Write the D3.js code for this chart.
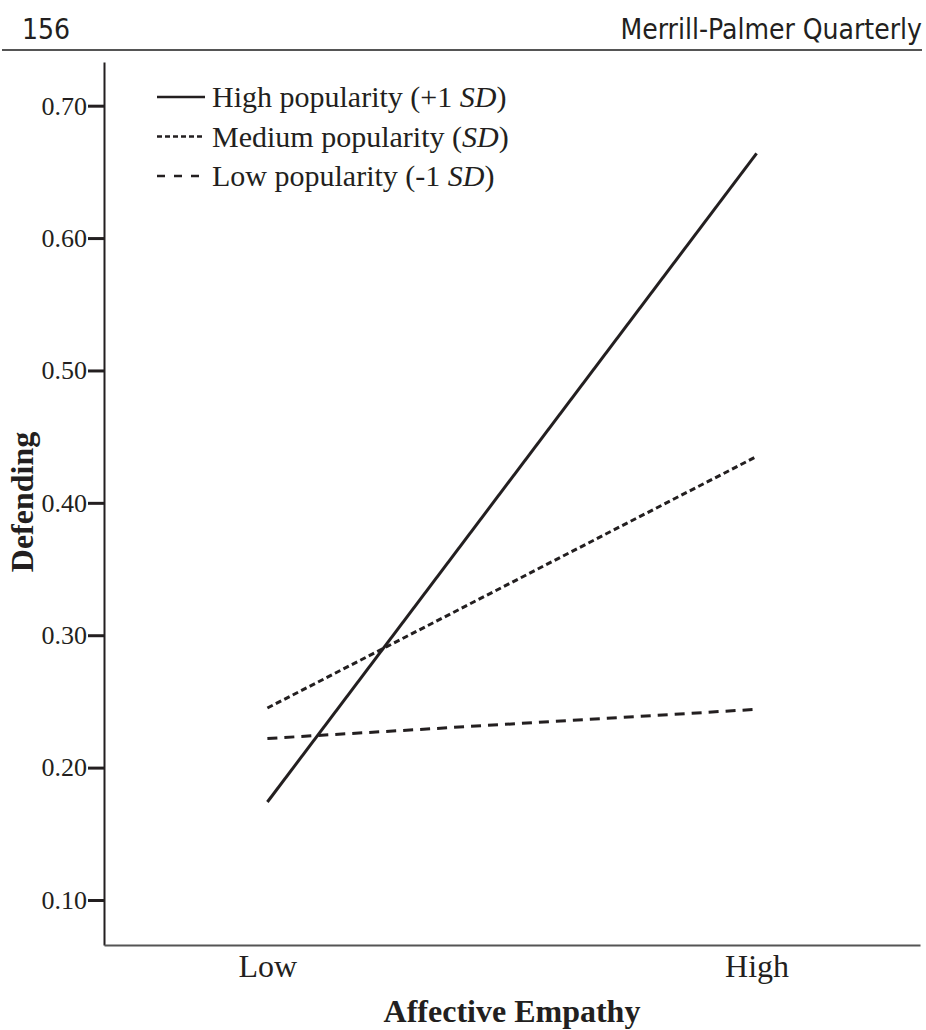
<!DOCTYPE html>
<html>
<head>
<meta charset="utf-8">
<script src="https://cdn.jsdelivr.net/npm/d3@7"></script>
<style>
  body { margin: 0; background: #fff; }
</style>
</head>
<body>
<div id="chart"></div>
<script>
// Data
const empathyLevels = ['Low', 'High'];
const seriesNames = ['High popularity', 'Medium popularity', 'Low popularity'];
const highPopularity = [0.174, 0.664];
const mediumPopularity = [0.245, 0.435];
const lowPopularity = [0.222, 0.244];
const yTicks = [0.10, 0.20, 0.30, 0.40, 0.50, 0.60, 0.70];

const width = 926, height = 1030;
const serif = "'Liberation Serif', 'Times New Roman', serif";
const headerFont = "'Liberation Sans Narrow', 'DejaVu Sans Condensed', 'Liberation Sans', sans-serif";
const ink = '#231f20';

const svg = d3.select('#chart')
    .append('svg')
    .attr('width', width)
    .attr('height', height);

// Page header
svg.append('text')
    .attr('x', 22)
    .attr('y', 39)
    .style('font-family', headerFont)
    .style('font-size', '28px')
    .attr('fill', ink)
    .text('156');

svg.append('text')
    .attr('x', 922)
    .attr('y', 39)
    .attr('text-anchor', 'end')
    .style('font-family', headerFont)
    .style('font-size', '28px')
    .attr('fill', ink)
    .text('Merrill-Palmer Quarterly');

svg.append('line')
    .attr('x1', 2).attr('x2', 922)
    .attr('y1', 50).attr('y2', 50)
    .attr('stroke', '#555')
    .attr('stroke-width', 2);

// Scales
const x = d3.scalePoint()
    .domain(empathyLevels)
    .range([104, 920])
    .padding(0.334);

const y = d3.scaleLinear()
    .domain([0.066, 0.733])
    .range([945, 62]);

// Axes
const yAxis = svg.append('g')
    .attr('transform', 'translate(104,0)')
    .call(d3.axisLeft(y).tickValues(yTicks).tickFormat(d3.format('.2f')).tickSize(16).tickSizeOuter(0).tickPadding(1));

yAxis.select('.domain').attr('stroke', ink).attr('stroke-width', 2);
yAxis.selectAll('.tick line').attr('stroke', ink).attr('stroke-width', 3);
yAxis.selectAll('.tick text')
    .style('font-family', serif)
    .style('font-size', '26px')
    .attr('fill', ink);

const xAxis = svg.append('g')
    .attr('transform', 'translate(0,945)')
    .call(d3.axisBottom(x).tickSize(0).tickSizeOuter(0).tickPadding(9));

xAxis.select('.domain').attr('stroke', '#555').attr('stroke-width', 2);
xAxis.selectAll('.tick text')
    .style('font-family', serif)
    .style('font-size', '32px')
    .attr('fill', ink);

// Axis titles
svg.append('text')
    .attr('x', 512)
    .attr('y', 1022)
    .attr('text-anchor', 'middle')
    .style('font-family', serif)
    .style('font-size', '32px')
    .style('font-weight', 'bold')
    .attr('fill', ink)
    .text('Affective Empathy');

svg.append('text')
    .attr('transform', 'translate(33,502) rotate(-90)')
    .attr('text-anchor', 'middle')
    .style('font-family', serif)
    .style('font-size', '32px')
    .style('font-weight', 'bold')
    .attr('fill', ink)
    .text('Defending');

// Lines
const dashes = ['none', '6,3.5', '10,7'];
const series = [highPopularity, mediumPopularity, lowPopularity];

const line = d3.line()
    .x((d, i) => x(empathyLevels[i]))
    .y(d => y(d));

svg.append('g')
    .selectAll('path')
    .data(series)
    .join('path')
    .attr('d', d => line(d))
    .attr('fill', 'none')
    .attr('stroke', ink)
    .attr('stroke-width', 3)
    .attr('stroke-dasharray', (d, i) => dashes[i]);

// Legend
const legendLabels = [
    { name: seriesNames[0], pre: ' (+1 ', post: ')' },
    { name: seriesNames[1], pre: ' (', post: ')' },
    { name: seriesNames[2], pre: ' (-1 ', post: ')' }
];

const legend = svg.append('g')
    .attr('transform', 'translate(157,97)');

const rows = legend.selectAll('g')
    .data(legendLabels)
    .join('g')
    .attr('transform', (d, i) => `translate(0,${i * 39.5})`);

rows.append('line')
    .attr('x1', 0).attr('x2', 48)
    .attr('y1', 0).attr('y2', 0)
    .attr('stroke', ink)
    .attr('stroke-width', 2.5)
    .attr('stroke-dasharray', (d, i) => i === 0 ? 'none' : (i === 1 ? '5,3' : '8,9'));

const labels = rows.append('text')
    .attr('x', 55)
    .attr('y', 10)
    .style('font-family', serif)
    .style('font-size', '30px')
    .attr('fill', ink);

labels.append('tspan').text(d => d.name + d.pre);
labels.append('tspan').style('font-style', 'italic').text('SD');
labels.append('tspan').text(d => d.post);
</script>
</body>
</html>
